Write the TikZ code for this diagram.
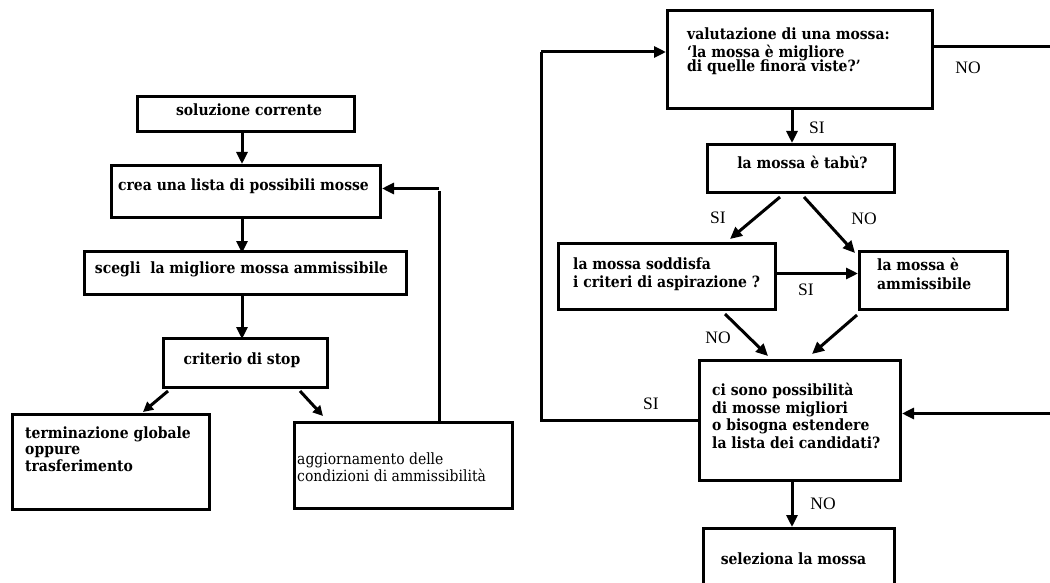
\documentclass[tikz,border=0pt]{standalone}
\usepackage{fontspec}
\setmainfont{DejaVu Serif}[FakeStretch=0.9]
\newfontfamily\labfont{Liberation Serif}
\usetikzlibrary{arrows.meta,calc}
\tikzset{
  box/.style={draw, line width=3pt, rectangle, inner sep=0pt},
  arr/.style={line width=3pt, -{Triangle[length=12pt,width=11pt]}},
  ln/.style={line width=3pt},
  txt/.style={inner sep=0pt, font=\fontsize{15.5}{17}\selectfont\bfseries},
  mtxt/.style={inner sep=0pt, align=left, anchor=base west},
  lab/.style={inner sep=0pt, anchor=base, font=\fontsize{17.5}{20}\labfont},
}
\begin{document}
\begin{tikzpicture}[x=1pt,y=-1pt]
\clip (0,0) rectangle (1050,583);
\fill[white] (0,0) rectangle (1050,583);
% ---- left boxes
\node[box, minimum width=217pt, minimum height=35pt, anchor=north west] (b1) at (136,95) {};
\node[box, minimum width=269pt, minimum height=52pt, anchor=north west] (b2) at (110,164) {};
\node[box, minimum width=322pt, minimum height=43pt, anchor=north west] (b3) at (83,250) {};
\node[box, minimum width=164pt, minimum height=49pt, anchor=north west] (b4) at (162,337) {};
\node[box, minimum width=197pt, minimum height=95pt, anchor=north west] (b5) at (11,413) {};
\node[box, minimum width=218pt, minimum height=86pt, anchor=north west] (b6) at (293,421) {};
% texts
\node[txt, anchor=base] (t1) at (249,116) {soluzione corrente};
\node[txt, anchor=base] (t2) at (243.5,190) {crea una lista di possibili mosse};
\node[txt, anchor=base] (t3) at (241.5,273) {scegli\ \ la migliore mossa ammissibile};
\node[txt, anchor=base] (t4) at (242,364) {criterio di stop};
\node[mtxt, font=\fontsize{15.5}{16.5}\selectfont\bfseries] (t5) at (25,471) {terminazione globale\\oppure\\trasferimento};
\node[mtxt, font=\fontsize{15.5}{14.5}\selectfont] (t6) at (297,481) {aggiornamento delle\\condizioni di ammissibilità};
% left connectors
\coordinate (lx) at (242,0);
\coordinate (fx) at (439,0);
\draw[arr] (lx |- b1.south) -- (lx |- b2.north);
\draw[arr] (lx |- b2.south) -- ([yshift=-3pt]lx |- b3.north);
\draw[arr] (lx |- b3.south) -- ([yshift=-2pt]lx |- b4.north);
\draw[ln] (fx |- b6.north) -- (fx |- b2.east) coordinate (fb);
\draw[arr] ([yshift=3pt]fb) -- ([yshift=3pt]b2.east);
\draw[arr, -{Triangle[length=10pt,width=10pt]}] ($(b4.south west)+(6,2)$) -- ($(b5.north west)+(132,-1)$);
\draw[arr, -{Triangle[length=10pt,width=10pt]}] ($(b4.south east)+(-29,2)$) -- ($(b6.north west)+(30,-5)$);
% ---- right boxes
\node[box, minimum width=265pt, minimum height=98pt, anchor=north west] (v) at (666,9) {};
\node[box, minimum width=187pt, minimum height=48pt, anchor=north west] (t) at (706,143) {};
\node[box, minimum width=217pt, minimum height=66pt, anchor=north west] (s) at (557,242) {};
\node[box, minimum width=148pt, minimum height=58pt, anchor=north west] (a) at (858,250) {};
\node[box, minimum width=201pt, minimum height=120pt, anchor=north west] (c) at (698,359) {};
\node[box, minimum width=191pt, minimum height=80pt, anchor=north west] (sel) at (702,527) {};
% texts
\node[mtxt, font=\fontsize{15.5}{17}\selectfont\bfseries] (tv) at (687,72) {valutazione di una mossa:\\[1pt]`la mossa è migliore\\[-3pt]di quelle finora viste?'};
\node[txt, anchor=base] (tt) at (802.5,168) {la mossa è tabù?};
\node[mtxt, font=\fontsize{15.5}{18}\selectfont\bfseries] (ts) at (573,287) {la mossa soddisfa\\i criteri di aspirazione ?};
\node[mtxt, font=\fontsize{15.5}{19}\selectfont\bfseries] (ta) at (877,289) {la mossa è\\ammissibile};
\node[mtxt, font=\fontsize{15.5}{17.5}\selectfont\bfseries] (tc) at (712,448) {ci sono possibilità\\di mosse migliori\\o bisogna estendere\\la lista dei candidati?};
\node[txt, anchor=base] (tsel) at (793.5,564) {seleziona la mossa};
% right connectors
\coordinate (rx) at (792,0);
\coordinate (lo) at (541,0);
\coordinate (ro) at (1060,0);
\draw[arr] (rx |- v.south) -- (rx |- t.north);
\draw[ln] ($(v.north east)+(0,38)$) -- (ro |- {$(v.north east)+(0,38)$});
\draw[ln] (c.west) -| (lo |- {$(v.north west)+(0,43)$}) coordinate (lt);
\draw[arr] (lt) -- ($(v.north west)+(0,43)$);
\draw[arr] (ro |- {$(c.east)+(0,-7)$}) -- ($(c.east)+(0,-7)$);
\draw[arr] ($(t.south)+(-21,3)$) -- ($(s.north west)+(173,-3)$);
\draw[arr] ($(t.south)+(3,3)$) -- ($(a.north west)+(-3,3)$);
\draw[arr] ($(s.east)+(0,-3)$) -- ($(a.west)+(0,-7)$);
\draw[arr] ($(s.south west)+(168,3)$) -- ($(c.north west)+(70,-3)$);
\draw[arr] ($(a.south west)+(-1,4)$) -- ($(c.north west)+(114,-5)$);
\draw[arr] (rx |- c.south) -- (rx |- sel.north);
% labels
\node[lab] (l1) at (968,74) {NO};
\node[lab] (l2) at (817,134) {SI};
\node[lab] (l3) at (718,223) {SI};
\node[lab] (l4) at (864,224) {NO};
\node[lab] (l5) at (806,295) {SI};
\node[lab] (l6) at (718,343) {NO};
\node[lab] (l7) at (651,409) {SI};
\node[lab] (l8) at (823,509) {NO};
\end{tikzpicture}
\end{document}
